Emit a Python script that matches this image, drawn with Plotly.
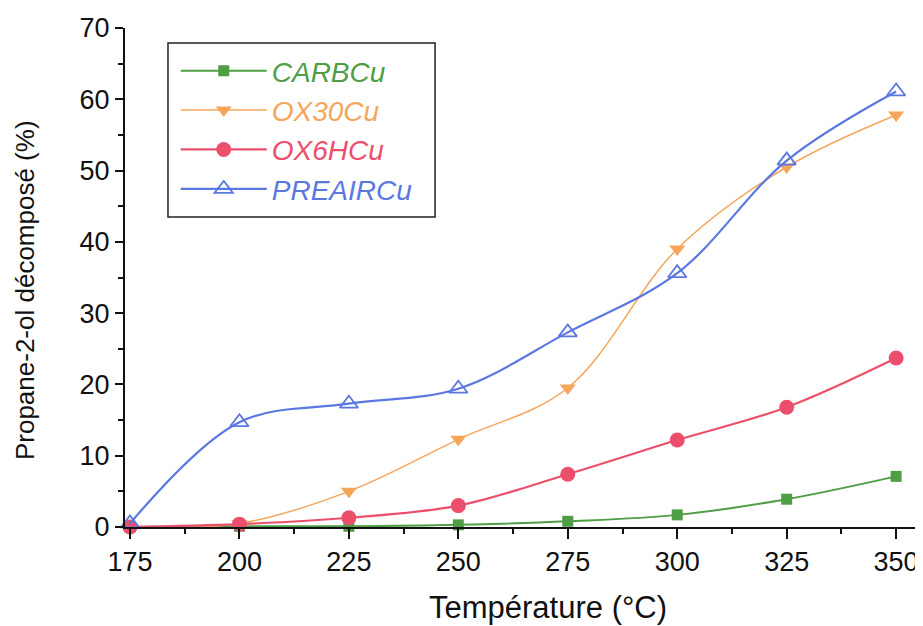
import plotly.graph_objects as go

temperature = [175, 200, 225, 250, 275, 300, 325, 350]

carbcu = [0.0, 0.1, 0.1, 0.3, 0.8, 1.7, 3.9, 7.1]
ox30cu = [0.0, 0.5, 5.0, 12.3, 19.5, 39.0, 50.5, 57.8]
ox6hcu = [0.0, 0.4, 1.3, 3.0, 7.4, 12.2, 16.8, 23.7]
preaircu = [0.5, 14.7, 17.3, 19.4, 27.3, 35.6, 51.4, 61.1]

series = [
    ("CARBCu", carbcu, "#4f9e45", "square", 11, 2),
    ("OX30Cu", ox30cu, "#f5a65b", "triangle-down", 14, 1.5),
    ("OX6HCu", ox6hcu, "#ec4f6b", "circle", 15, 2.2),
    ("PREAIRCu", preaircu, "#5a78e0", "triangle-up-open", 16, 2.2),
]

fig = go.Figure()

for name, values, color, symbol, size, width in series:
    marker = dict(symbol=symbol, size=size, color=color)
    if symbol.endswith("open"):
        marker["line"] = dict(color=color, width=1.8)
    fig.add_trace(go.Scatter(
        x=temperature,
        y=values,
        name=f"<span style='color:{color}'>{name}</span>",
        mode="lines+markers",
        line=dict(color=color, width=width, shape="spline", smoothing=1.0),
        marker=marker,
        cliponaxis=False,
        legendgroup=name,
    ))

font = "Liberation Sans, Arial, sans-serif"
ink = "#111111"

# page body adds an 8px offset, so the figure is sized and placed to compensate
fig.update_layout(
    width=915,
    height=618,
    paper_bgcolor="white",
    plot_bgcolor="white",
    margin=dict(l=117, r=5, t=20, b=99),
    font=dict(family=font, size=27, color=ink),
    legend=dict(
        x=0.064, y=0.964, xanchor="left", yanchor="top",
        borderwidth=0,
        bgcolor="rgba(0,0,0,0)",
        font=dict(family=font, size=28, style="italic"),
        itemwidth=86,
        tracegroupgap=3,
        traceorder="normal",
    ),
    shapes=[dict(
        type="rect", xref="paper", yref="paper",
        x0=0.0542, x1=0.391, y0=0.621, y1=0.970,
        line=dict(color="#222222", width=1.5),
        fillcolor="rgba(0,0,0,0)", layer="below",
    )],
    annotations=[
        dict(text="Température (°C)", xref="paper", yref="paper",
             x=0.533, y=-0.162, xanchor="center", yanchor="middle",
             showarrow=False, font=dict(size=31)),
        dict(text="Propane-2-ol décomposé (%)", xref="paper", yref="paper",
             x=-0.126, y=0.475, xanchor="center", yanchor="middle",
             textangle=-90, showarrow=False, font=dict(size=26)),
    ],
)

fig.update_xaxes(
    range=[173.86, 355],
    tickvals=temperature,
    tickfont=dict(size=27),
    showline=True, linecolor=ink, linewidth=2,
    ticks="outside", ticklen=10, tickwidth=2, tickcolor=ink,
    minor=dict(dtick=12.5, tick0=187.5, ticks="outside", ticklen=5, tickwidth=2, tickcolor=ink),
    showgrid=False, zeroline=False,
)

fig.update_yaxes(
    range=[0, 70],
    dtick=10,
    tickfont=dict(size=27),
    showline=True, linecolor=ink, linewidth=2,
    ticks="outside", ticklen=8, tickwidth=2, tickcolor=ink,
    minor=dict(dtick=5, ticks="outside", ticklen=5, tickwidth=2, tickcolor=ink),
    showgrid=False, zeroline=False,
)

fig.write_html("out.html")
